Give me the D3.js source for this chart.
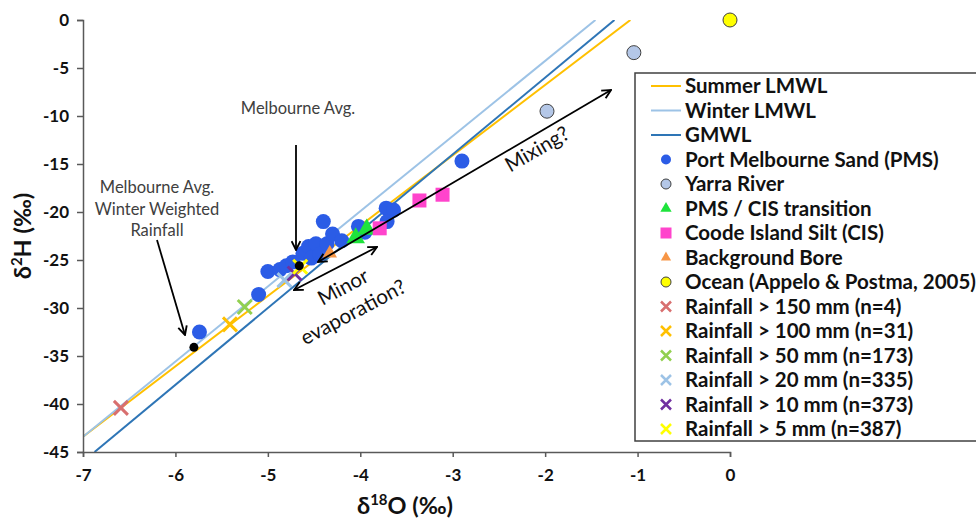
<!DOCTYPE html>
<html>
<head>
<meta charset="utf-8">
<script src="https://cdn.jsdelivr.net/npm/d3@7"></script>
<style>
  body { margin: 0; background: #fff; }
  svg { font-family: Lato, "Open Sans", sans-serif; }
</style>
</head>
<body>
<div id="chart"></div>
<script>
// values (d18O, d2H)
const xTicks = [-7, -6, -5, -4, -3, -2, -1, 0];
const yTicks = [0, -5, -10, -15, -20, -25, -30, -35, -40, -45];

const lineNames = ["Summer LMWL", "Winter LMWL", "GMWL"];
const lineSlopes = [7.33, 7.83, 8];
const lineIntercepts = [7.9, 11.4, 10];

const pms = [
  [-5.74, -32.5], [-5.1, -28.6], [-5.0, -26.2], [-4.87, -26.0], [-4.8, -25.6],
  [-4.73, -25.2], [-4.62, -24.3], [-4.56, -23.6], [-4.53, -24.8], [-4.48, -23.3],
  [-4.44, -24.4], [-4.4, -21.0], [-4.36, -23.3], [-4.3, -22.3], [-4.2, -23.0],
  [-4.02, -21.5], [-3.95, -22.1], [-3.72, -19.6], [-3.64, -19.8], [-3.71, -21.0],
  [-2.9, -14.7]
];
const yarra = [[-1.98, -9.5], [-1.04, -3.4]];
const transition = [[-3.93, -21.7], [-4.05, -22.6]];
const cis = [[-3.79, -21.7], [-3.36, -18.8], [-3.11, -18.2]];
const bore = [[-4.33, -24.2]];
const ocean = [[0, 0]];

const rainLabels = ["Rainfall > 150 mm (n=4)", "Rainfall > 100 mm (n=31)", "Rainfall > 50 mm (n=173)",
  "Rainfall > 20 mm (n=335)", "Rainfall > 10 mm (n=373)", "Rainfall > 5 mm (n=387)"];
const rainX = [-6.59, -5.41, -5.25, -4.82, -4.71, -4.65];
const rainY = [-40.4, -31.7, -29.9, -27.1, -26.4, -25.7];

const melbAvg = [[-4.66, -25.6], [-5.8, -34.1]];

const width = 976, height = 518;
const x = d3.scaleLinear().domain([-7, 0]).range([83, 730]);
const y = d3.scaleLinear().domain([-45, 0]).range([452, 20]);

const svg = d3.select("#chart").append("svg")
  .attr("width", width).attr("height", height);

svg.append("defs").append("marker")
  .attr("id", "head").attr("viewBox", "0 0 10 10")
  .attr("refX", 9).attr("refY", 5)
  .attr("markerWidth", 11).attr("markerHeight", 11)
  .attr("markerUnits", "userSpaceOnUse")
  .attr("orient", "auto-start-reverse")
  .append("path").attr("d", "M1,1 L9,5 L1,9")
  .attr("fill", "none").attr("stroke", "#000").attr("stroke-width", 1.7);

svg.select("defs").append("clipPath").attr("id", "plot")
  .append("rect").attr("x", 83).attr("y", 20).attr("width", 660).attr("height", 432);

const lineColors = ["#FFC000", "#9DC3E6", "#2E75B6"];

// meteoric water lines, clipped to the axes box
const lines = svg.append("g").attr("clip-path", "url(#plot)");
lineNames.forEach((n, i) => {
  const a = lineSlopes[i], b = lineIntercepts[i];
  const x0 = Math.max(-7, (-45 - b) / a), x1 = Math.min(0, (0 - b) / a);
  lines.append("line")
    .attr("x1", x(x0)).attr("y1", y(a * x0 + b))
    .attr("x2", x(x1)).attr("y2", y(a * x1 + b))
    .attr("stroke", lineColors[i]).attr("stroke-width", 2);
});

// axes
const axisColor = "#595959";
const gx = svg.append("g").attr("transform", "translate(0," + y(-45) + ")")
  .call(d3.axisBottom(x).tickValues(xTicks).tickSize(5).tickPadding(12).tickFormat(d3.format("d")));
const gy = svg.append("g").attr("transform", "translate(" + x(-7) + ",0)")
  .call(d3.axisLeft(y).tickValues(yTicks).tickSize(6).tickPadding(8).tickFormat(d3.format("d")));
[gx, gy].forEach(g => {
  g.select(".domain").attr("stroke", axisColor).attr("stroke-width", 1.5);
  g.selectAll(".tick line").attr("stroke", axisColor).attr("stroke-width", 1.5);
  g.selectAll(".tick text").attr("fill", "#111").attr("font-size", 17).attr("font-weight", "bold")
    .attr("font-family", "Lato, sans-serif").text(d => d === 0 ? "0" : String(d).replace("\u2212", "-"));
});

svg.append("text").attr("transform", "translate(31,236) rotate(-90)")
  .attr("text-anchor", "middle").attr("font-size", 23.5).attr("font-weight", "bold").attr("fill", "#111")
  .html('δ<tspan dy="-9" font-size="15">2</tspan><tspan dy="9">H (‰)</tspan>');
svg.append("text").attr("x", 405).attr("y", 514)
  .attr("text-anchor", "middle").attr("font-size", 23.5).attr("font-weight", "bold").attr("fill", "#111")
  .html('δ<tspan dy="-9" font-size="15">18</tspan><tspan dy="9">O (‰)</tspan>');

// markers
const sym = (type, size) => d3.symbol().type(type).size(size)();
const crossPath = s => "M" + (-s) + "," + (-s) + "L" + s + "," + s + "M" + (-s) + "," + s + "L" + s + "," + (-s);

const pts = svg.append("g");
pts.selectAll(".pms").data(pms).enter().append("circle")
  .attr("cx", d => x(d[0])).attr("cy", d => y(d[1])).attr("r", 7.5).attr("fill", "#2B5CE6");
pts.selectAll(".yarra").data(yarra).enter().append("circle")
  .attr("cx", d => x(d[0])).attr("cy", d => y(d[1])).attr("r", 7)
  .attr("fill", "#B4C7E7").attr("stroke", "#404040").attr("stroke-width", 1);
pts.selectAll(".tr").data(transition).enter().append("path")
  .attr("transform", d => "translate(" + x(d[0]) + "," + (y(d[1]) + 1) + ")")
  .attr("d", sym(d3.symbolTriangle, 150)).attr("fill", "#1EE33C");
pts.selectAll(".cis").data(cis).enter().append("rect")
  .attr("x", d => x(d[0]) - 7).attr("y", d => y(d[1]) - 7).attr("width", 14).attr("height", 14)
  .attr("fill", "#FF44CC");
pts.selectAll(".bore").data(bore).enter().append("path")
  .attr("transform", d => "translate(" + x(d[0]) + "," + (y(d[1]) + 1) + ")")
  .attr("d", sym(d3.symbolTriangle, 90)).attr("fill", "#F79646");
pts.selectAll(".ocean").data(ocean).enter().append("circle")
  .attr("cx", d => x(d[0])).attr("cy", d => y(d[1])).attr("r", 7)
  .attr("fill", "#FFFF00").attr("stroke", "#404040").attr("stroke-width", 1);

const rainColors = ["#D86F6F", "#FFC000", "#92D050", "#9DC3E6", "#7030A0", "#FFFF00"];
rainLabels.forEach((l, i) => {
  pts.append("path").attr("transform", "translate(" + x(rainX[i]) + "," + y(rainY[i]) + ")")
    .attr("d", crossPath(7)).attr("stroke", rainColors[i]).attr("stroke-width", 3).attr("fill", "none");
});

pts.selectAll(".avg").data(melbAvg).enter().append("circle")
  .attr("cx", d => x(d[0])).attr("cy", d => y(d[1])).attr("r", 4.5).attr("fill", "#000");

// annotations
const note = svg.append("g").attr("fill", "#404040").attr("font-size", 16.5);
note.append("text").attr("x", 298).attr("y", 114).attr("text-anchor", "middle").text("Melbourne Avg.");
["Melbourne Avg.", "Winter Weighted", "Rainfall"].forEach((t, i) => {
  note.append("text").attr("x", 157).attr("y", 193 + i * 21.5).attr("text-anchor", "middle").text(t);
});

const arrow = (x1, y1, x2, y2, both) => {
  const l = svg.append("line").attr("x1", x1).attr("y1", y1).attr("x2", x2).attr("y2", y2)
    .attr("stroke", "#000").attr("stroke-width", 1.8).attr("marker-end", "url(#head)");
  if (both) l.attr("marker-start", "url(#head)");
};
arrow(296, 145, 296, 250);
arrow(157, 240, 185, 335);
arrow(294, 290, 377, 247, true);
arrow(318, 262, 611, 90, true);

const rot = svg.append("g").attr("font-size", 20.5).attr("fill", "#111").attr("text-anchor", "middle");
rot.append("text").attr("transform", "translate(343,287) rotate(-28)").attr("dy", "0.35em").text("Minor");
rot.append("text").attr("transform", "translate(353,312) rotate(-28)").attr("dy", "0.35em").text("evaporation?");
rot.append("text").attr("transform", "translate(537,149) rotate(-30)").attr("dy", "0.35em").text("Mixing?");

// legend
const lg = svg.append("g").attr("transform", "translate(635,73)");
lg.append("rect").attr("x", 0).attr("y", 0).attr("width", 345).attr("height", 368)
  .attr("fill", "#fff").attr("stroke", "#404040").attr("stroke-width", 1.5);
const legendLabels = lineNames.concat(["Port Melbourne Sand (PMS)", "Yarra River", "PMS / CIS transition",
  "Coode Island Silt (CIS)", "Background Bore", "Ocean (Appelo & Postma, 2005)"], rainLabels);
legendLabels.forEach((t, i) => {
  const cy = 13 + i * 24.5;
  const g = lg.append("g").attr("transform", "translate(31," + cy + ")");
  if (i < 3) g.append("line").attr("x1", -15).attr("x2", 15).attr("stroke", lineColors[i]).attr("stroke-width", 2);
  else if (i === 3) g.append("circle").attr("r", 5).attr("fill", "#2B5CE6");
  else if (i === 4) g.append("circle").attr("r", 5).attr("fill", "#B4C7E7").attr("stroke", "#404040");
  else if (i === 5) g.append("path").attr("d", sym(d3.symbolTriangle, 55)).attr("fill", "#1EE33C");
  else if (i === 6) g.append("rect").attr("x", -5.5).attr("y", -5.5).attr("width", 11).attr("height", 11).attr("fill", "#FF44CC");
  else if (i === 7) g.append("path").attr("d", sym(d3.symbolTriangle, 45)).attr("fill", "#F79646");
  else if (i === 8) g.append("circle").attr("r", 5).attr("fill", "#FFFF00").attr("stroke", "#404040");
  else g.append("path").attr("d", crossPath(5)).attr("stroke", rainColors[i - 9]).attr("stroke-width", 2.5);
  lg.append("text").attr("x", 50).attr("y", cy).attr("dy", "0.35em").attr("font-size", 20.5).attr("font-weight", "bold")
    .attr("fill", "#111").text(t);
});
</script>
</body>
</html>
